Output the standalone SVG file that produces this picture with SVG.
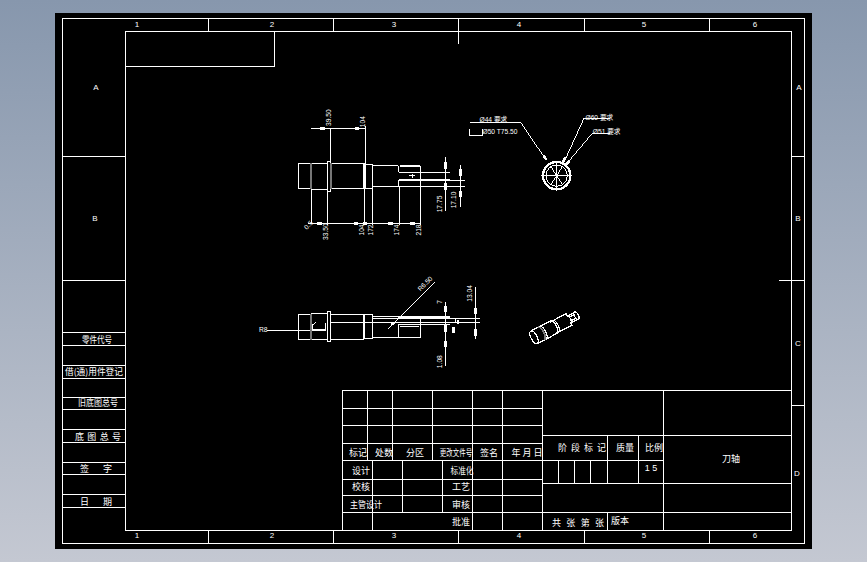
<svg xmlns="http://www.w3.org/2000/svg" width="867" height="562" viewBox="0 0 867 562">
<defs>
<linearGradient id="bg" x1="0" y1="0" x2="0" y2="1"><stop offset="0" stop-color="#8797ad"/><stop offset="1" stop-color="#c4c8d2"/></linearGradient>
</defs>
<style>
.l{fill:none;stroke:#fff;stroke-width:1;shape-rendering:crispEdges}
.z{fill:none;stroke:#fff;stroke-width:3;shape-rendering:crispEdges}
.g{fill:none;stroke:#777;stroke-width:5;shape-rendering:crispEdges}
.b{fill:#fff;stroke:none;shape-rendering:crispEdges}
text{fill:#fff;font-family:"Liberation Sans","Noto Sans CJK SC",sans-serif}
.c text{font-size:9px;text-anchor:middle;font-family:"Noto Sans CJK SC","Liberation Sans",sans-serif}
.n text{font-size:8px;text-anchor:middle}
.d text{font-size:20px;text-anchor:middle;font-family:"Liberation Sans","Noto Sans CJK SC",sans-serif}
</style>
<rect width="867" height="562" fill="url(#bg)"/>
<rect x="55" y="13" width="757" height="536" fill="#000"/>
<g id="frame">
<path class="l" d="M62.500 18.500H804.500V543.500H62.500ZM125.500 31.500H791.500V530.500H125.500ZM125.500 66.500H274.500V31.500"/>
<path class="l" d="M208.500 18V31M333.500 18V31M458.500 18V44M584.500 18V31M709.500 18V31M208.500 530V544M333.500 530V544M458.500 530V544M584.500 530V544M709.500 530V544M62 156.500H125M62 280.500H125M791 156.500H805M779 280.500H805M791 405.500H805"/>
<path class="l" d="M62 332.500H125M62 345.500H125M62 365.500H125M62 378.500H125M62 397.500H125M62 409.500H125M62 429.500H125M62 442.500H125M62 462.500H125M62 474.500H125M62 494.500H125M62 507.500H125"/>
<g class="n"><text x="137" y="27">1</text><text x="272" y="27">2</text><text x="394" y="27">3</text><text x="519" y="27">4</text><text x="644" y="27">5</text><text x="755" y="27">6</text><text x="137" y="538">1</text><text x="272" y="538">2</text><text x="394" y="538">3</text><text x="519" y="538">4</text><text x="644" y="538">5</text><text x="755" y="538">6</text><text x="96" y="90">A</text><text x="95" y="221">B</text><text x="799" y="90">A</text><text x="798" y="221">B</text><text x="798" y="346">C</text><text x="797" y="476">D</text></g>
<g class="c"><text x="97" y="343" textLength="30" lengthAdjust="spacingAndGlyphs">零件代号</text><text x="94" y="375" textLength="58" lengthAdjust="spacingAndGlyphs">借(通)用件登记</text><text x="98" y="406" textLength="40" lengthAdjust="spacingAndGlyphs">旧底图总号</text><text x="98" y="440" textLength="46">底图总号</text><text x="96" y="472" textLength="32" xml:space="preserve">签    字</text><text x="96" y="505" textLength="32" xml:space="preserve">日    期</text></g>
</g>
<g id="title-block">
<path class="l" d="M343 390.500H791.500M343 408.500H542M343 425.500H542M343 443.500H542M343 460.500H663M343 479.500H542M343 495.500H542M343 512.500H791.500M342.500 390V530M367.500 390V460M392.500 390V460M432.500 390V460M472.500 390V530M502.500 390V530M542.500 390V530M372.500 460V530M402.500 460V512M442.500 460V512M663.500 390V530M542 435.500H791.500M542 483.500H791.500M607.500 435V483M638.500 435V483M558.500 460V483M574.500 460V483M590.500 460V483M607.500 512V530"/>
<g class="c">
<text x="358" y="456">标记</text><text x="384" y="456">处数</text><text x="415" y="456">分区</text><text transform="translate(456 456) scale(.72 1)">更改文件号</text><text x="489" y="456">签名</text><text x="527" y="456" textLength="31">年月日</text>
<text x="361" y="474">设计</text><text x="462" y="474" textLength="23" lengthAdjust="spacingAndGlyphs">标准化</text>
<text x="361" y="490">校核</text><text x="461" y="490">工艺</text>
<text x="366" y="508" textLength="32" lengthAdjust="spacingAndGlyphs">主管设计</text><text x="461" y="508">审核</text><text x="461" y="525">批准</text>
<text x="582" y="451" textLength="48">阶段标记</text><text x="625" y="451">质量</text><text x="654" y="451">比例</text>
<text x="731" y="462">刀轴</text><text x="578" y="526" textLength="52">共 张 第 张</text><text x="620" y="524">版本</text>
</g>
<text x="651" y="471" font-size="9" text-anchor="middle" fill="#fff" xml:space="preserve">1 5</text>
</g>
<g id="front-view" transform="translate(250 100) scale(.33333)">
<path class="z" d="M145 190H232M145 266H185M145 190V266M185 190V268H232M232 184H241V275H232ZM244 190H342V266H244M346 193H368V266H346M368 197H445M368 259H645M368 197V259"/>
<path class="g" d="M183 190V266M244 190V266"/>
<path class="z" style="stroke-width:6" d="M344 190V266M450 198H510M447 239H600"/>
<path class="z" d="M445 197V216M447 217H600M446 241V259M511 197V259M600 241H645M478 228H496M487 222V234"/>
<path class="z" d="M183 85H346M241 85V184M346 78V190M175 370H512M184 266V370M232 270V375M343 266V375M367 259V375M448 259V375M511 259V375M586 170V332M631 195V320"/>
<path class="b" d="M210 82h15v7h-15zM315 82h12v7h-12zM201 367h15v7h-15zM312 367h12v7h-12zM338 367h12v7h-12zM414 367h15v7h-15zM480 367h15v7h-15zM583 186h7v20h-7zM583 250h7v20h-7zM628 207h7v20h-7zM628 272h7v20h-7z"/>
<g class="d">
<text transform="translate(242 53) rotate(-90)">39.50</text><text transform="translate(344 65) rotate(-90)">104</text>
<text transform="translate(234 395) rotate(-90)">33.50</text><text transform="translate(341 390) rotate(-90)">104</text><text transform="translate(368 390) rotate(-90)">172</text><text transform="translate(446 390) rotate(-90)">174</text><text transform="translate(512 390) rotate(-90)">218</text>
<text transform="translate(576 312) rotate(-90)">17.75</text><text transform="translate(618 300) rotate(-90)">17.10</text>
<text transform="translate(180 380) rotate(-45)">0.5</text>
</g>
</g>
<g id="side-view" transform="translate(250 270) scale(.33333)">
<path class="z" d="M145 133H183M145 209H232M145 133V209M183 130H232M232 124H241V215H232ZM244 133H341V209H244M346 135H368V206H346M368 139H445M368 202H512M368 139V202M511 145V203M446 165H512V202H446ZM450 169H508M368 145H690M240 157H690M600 145H616V157M445 163H600M187 180V165L198 158M190 180H228M228 160V180M50 181H228"/>
<path class="g" d="M183 133V209"/>
<path class="z" style="stroke-width:6" d="M343 133V207M445 142H600"/>
<path class="z" d="M586 97V287M676 52V208M553 37L415 176"/>
<path class="b" d="M583 108h7v17h-7zM583 165h7v20h-7zM583 212h7v20h-7zM673 114h7v19h-7zM673 177h7v20h-7zM607 170h7v20h-7zM622 150h6v12h-6zM423 158l7-3 5 5-6 7-6-2z"/>
<g class="d">
<text transform="translate(530 46) rotate(-45)">R6.50</text><text transform="translate(576 96) rotate(-90)">7</text><text transform="translate(576 275) rotate(-90)">1.08</text><text transform="translate(667 70) rotate(-90)">13.04</text><text x="40" y="187">R8</text>
</g>
</g>
<g id="end-view" transform="translate(460 105) scale(.33333)">
<circle class="z" style="stroke-width:7" cx="290" cy="212" r="41"/>
<circle class="z" cx="290" cy="212" r="32"/>
<path class="z" d="M243 212H337M290 167V259M258 212H322M290 212L272 184M290 212L308 184M290 212L272 240M290 212L308 240"/>
<path class="z" d="M30 52H182L255 160M450 40H372L315 165M450 85H397L325 170M30 72V92H68V72"/>
<path class="b" d="M247 153l6-4 10 14-6 4zM313 155l7 3-8 16-7-3zM325 165l6 5-10 11-5-5z"/>
<g class="d"><text x="100" y="52">Ø44 要求</text><text x="120" y="88">Ø50 T75.50</text><text x="418" y="44">Ø60 要求</text><text x="440" y="87">Ø51 要求</text></g>
</g>
<g id="iso-view" transform="translate(520 300) scale(.33333)">
<g transform="translate(42 112) rotate(-27)">
<path class="z" style="stroke-width:4" d="M0 -21H66V-19H118V-11H146M0 21H66V19H118V11H146"/>
<ellipse class="z" style="stroke-width:4" cx="0" cy="0" rx="9" ry="21"/>
<path class="z" style="stroke-width:4" d="M30 -21A9 21 0 0 1 30 21M66 -21A9 21 0 0 1 66 21M72 -20A9 20 0 0 1 72 20M118 -12A5 12 0 0 1 118 12"/>
<path class="g" d="M24 -21A9 21 0 0 1 24 21"/>
<ellipse class="z" style="stroke-width:4" cx="143" cy="0" rx="6" ry="12"/>
<path class="z" style="stroke-width:4" d="M120 -6H140M120 6H140"/>
</g>
</g>
</svg>
